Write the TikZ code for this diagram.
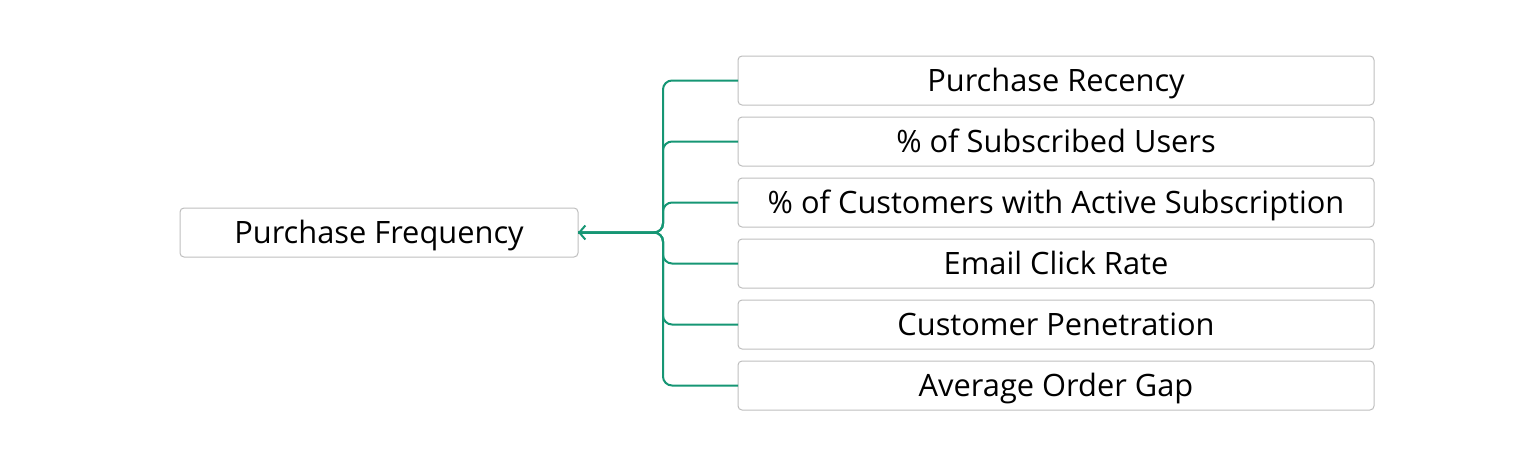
\documentclass[tikz,border=0pt]{standalone}
\usepackage{fontspec}
\setmainfont{Open Sans}
\usepackage{xcolor}
\usetikzlibrary{arrows.meta, positioning}
\definecolor{linkGreen}{RGB}{22,150,116}
\definecolor{boxGray}{RGB}{190,190,190}

\begin{document}
\begin{tikzpicture}[x=1pt, y=1pt,
    metric/.style={draw=boxGray, line width=1pt, rounded corners=4pt,
                   minimum width=636pt, minimum height=49pt, inner sep=0pt,
                   outer sep=0pt, text height=24pt, text depth=3pt,
                   font=\fontsize{30.8}{34}\selectfont},
    target/.style={metric, minimum width=398pt},
    link/.style={draw=linkGreen, line width=2pt, rounded corners=9pt}]
  \useasboundingbox (0,0) rectangle (1529,-466);
  % target metric on the left
  \node[target] (freq) at (379,-232.5) {Purchase Frequency};
  % driver metrics on the right
  \node[metric] (m1) at (1056,-80.5) {Purchase Recency};
  \node[metric, below=12pt of m1] (m2) {\% of Subscribed Users};
  \node[metric, below=12pt of m2] (m3) {\% of Customers with Active Subscription};
  \node[metric, below=12pt of m3] (m4) {Email Click Rate};
  \node[metric, below=12pt of m4] (m5) {Customer Penetration};
  \node[metric, below=12pt of m5] (m6) {Average Order Gap};
  \coordinate (trunk) at (663,-232.5);
  \foreach \i in {1,...,6}
    \draw[link] (m\i.west) -- (m\i.west -| trunk) -- (trunk) -- (freq.east);
  \draw[draw=linkGreen, line width=2pt, -{Straight Barb[length=6pt, width=14pt]}]
    (trunk) ++(-20,0) -- (freq.east);
\end{tikzpicture}
\end{document}
